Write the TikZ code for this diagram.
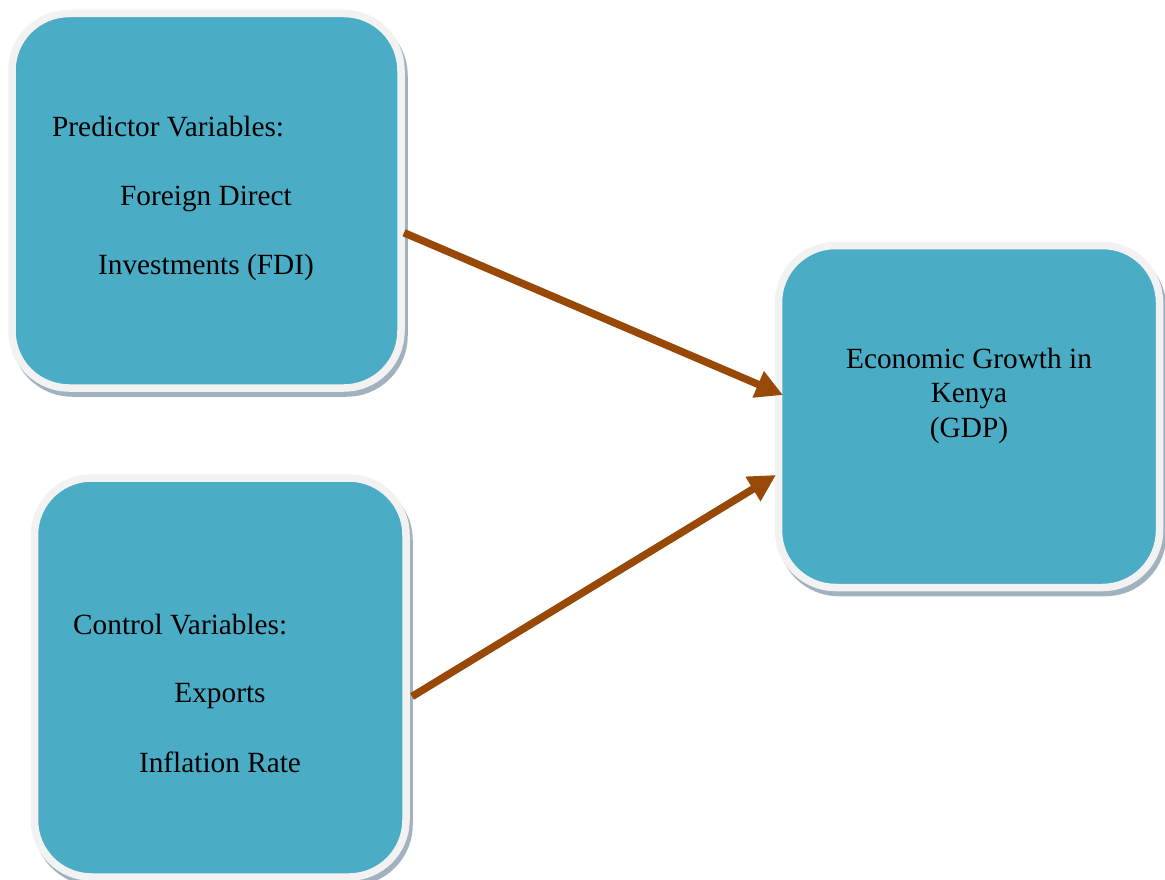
\documentclass[tikz,border=0pt]{standalone}
\usepackage{fontspec}
\setmainfont{Liberation Serif}
\usetikzlibrary{arrows.meta,calc,backgrounds}
\definecolor{boxfill}{HTML}{4BACC6}
\definecolor{boxrim}{HTML}{F2F2F2}
\definecolor{boxshade}{HTML}{9FB2BE}
\definecolor{arrowbrown}{HTML}{984807}

\begin{document}
\begin{tikzpicture}[x=1pt,y=-1pt,
  varbox/.style={rectangle, rounded corners=57pt, fill=boxfill, draw=boxrim,
    line width=7.5pt, inner sep=0pt, outer sep=0pt},
  boxshadow/.style={fill=boxshade, rounded corners=61pt},
  lbl/.style={font=\fontsize{29.3}{34}\selectfont, inner sep=0pt, text=black},
  link/.style={draw=arrowbrown, line width=7.5pt,
    -{Triangle[length=27pt,width=27pt]}}]

\useasboundingbox (0,0) rectangle (1165,880);

% the three boxes
\node[varbox, minimum width=389pt, minimum height=374.5pt] (pred) at (206.5,200.75) {};
\node[varbox, minimum width=381pt, minimum height=342pt]   (gdp)  at (969,416.5) {};
\node[varbox, minimum width=371.5pt, minimum height=399pt] (ctrl) at (220.25,677.5) {};

% soft drop shadows behind the boxes
\begin{scope}[on background layer]
  \foreach \b in {pred,gdp,ctrl}
    \fill[boxshadow] ($(\b.north west)+(-0.75,1.25)$) rectangle ($(\b.south east)+(6.75,8.75)$);
\end{scope}

% box texts
\node[lbl, anchor=base west] (predhead) at (52,137) {Predictor Variables:};
\node[lbl, anchor=base] (fdi1) at (206,205) {Foreign Direct};
\node[lbl, anchor=base] (fdi2) at (206,274) {Investments (FDI)};

\node[lbl, anchor=base] (g1) at (969,368) {Economic Growth in};
\node[lbl, anchor=base] (g2) at (969,402) {Kenya};
\node[lbl, anchor=base] (g3) at (969,437) {(GDP)};

\node[lbl, anchor=base west] (ctrlhead) at (73,634) {Control Variables:};
\node[lbl, anchor=base] (exp) at (220,702) {Exports};
\node[lbl, anchor=base] (infl) at (220,772) {Inflation Rate};

% connectors
\draw[link] ([xshift=3pt,yshift=-32pt]pred.east) -- ([xshift=4.5pt,yshift=21.5pt]gdp.west);
\draw[link] ([xshift=6pt,yshift=-19pt]ctrl.east) -- ([xshift=-2.5pt,yshift=-58.5pt]gdp.west);
\end{tikzpicture}
\end{document}
